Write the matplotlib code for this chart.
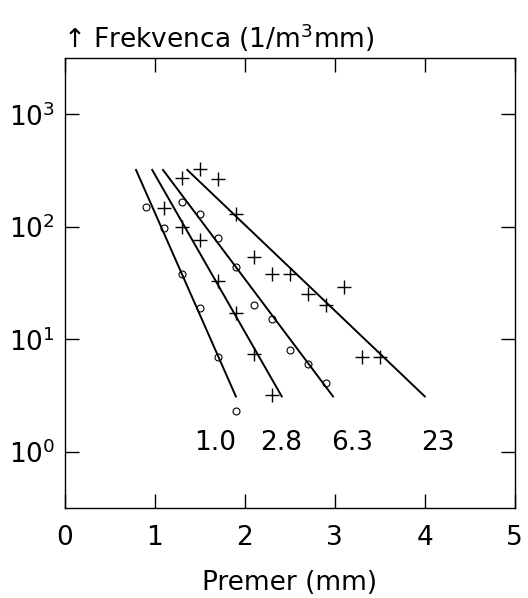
import numpy as np
import matplotlib
matplotlib.use('Agg')
import matplotlib.pyplot as plt
from matplotlib.ticker import LogLocator, NullLocator

plt.rcParams['font.family'] = ['DejaVu Sans']
plt.rcParams['mathtext.fontset'] = 'dejavusans'

# drop size spectra, one per rain rate (mm/h)
rates = ['1.0', '2.8', '6.3', '23']

d_r1 = [0.9, 1.1, 1.3, 1.5, 1.7, 1.9]
n_r1 = [150, 98, 38, 19, 7, 2.3]

d_r2 = [1.1, 1.3, 1.5, 1.7, 1.9, 2.1, 2.3]
n_r2 = [148, 100, 76, 33, 17, 7.4, 3.2]

d_r3 = [1.3, 1.5, 1.7, 1.9, 2.1, 2.3, 2.5, 2.7, 2.9]
n_r3 = [165, 130, 80, 44, 20, 15, 8, 6, 4.1]

d_r4 = [1.3, 1.5, 1.7, 1.9, 2.1, 2.3, 2.5, 2.7, 2.9, 3.1, 3.3, 3.5]
n_r4 = [270, 325, 265, 130, 54, 38, 38, 25, 20, 29, 7, 7]

# fitted exponential lines (straight on log axis): endpoints
fit_d0 = [0.79, 0.97, 1.09, 1.36]
fit_d1 = [1.90, 2.41, 2.98, 4.00]
fit_n0 = 320
fit_n1 = 3.1

# positions of the rain-rate labels
label_d = [1.67, 2.4, 3.19, 4.15]
label_n = 1.2

FS = 19

fig = plt.figure(figsize=(5.28, 5.98), dpi=100)
ax = fig.add_axes([0.123, 0.1505, 0.852, 0.7525])

for a, b in zip(fit_d0, fit_d1):
    ax.plot([a, b], [fit_n0, fit_n1], color='black', lw=1.4)

ax.plot(d_r1, n_r1, 'o', mfc='none', mec='black', ms=5, mew=0.8)
ax.plot(d_r2, n_r2, '+', color='black', ms=10, mew=1.0)
ax.plot(d_r3, n_r3, 'o', mfc='none', mec='black', ms=5, mew=0.8)
ax.plot(d_r4, n_r4, '+', color='black', ms=10, mew=1.0)

for x, t in zip(label_d, rates):
    ax.text(x, label_n, t, ha='center', va='center', fontsize=FS)

ax.set_yscale('log')
ax.set_xlim(0, 5)
ax.set_ylim(10**-0.5, 10**3.5)
ax.yaxis.set_major_locator(LogLocator(base=10, numticks=10))
ax.yaxis.set_minor_locator(NullLocator())
ax.set_xticks([0, 1, 2, 3, 4, 5])

ax.tick_params(direction='in', length=10, width=1.0, top=True, right=True,
               labelsize=FS)
ax.tick_params(axis='x', pad=12)
ax.tick_params(axis='y', pad=7)
for s in ax.spines.values():
    s.set_linewidth(1.0)

ax.set_xlabel('Premer (mm)', fontsize=FS, labelpad=14)
ax.set_title(r'↑ Frekvenca (1/m$^3$mm)', loc='left', fontsize=FS, pad=7, x=-0.005)

fig.savefig('out.png', dpi=100)
